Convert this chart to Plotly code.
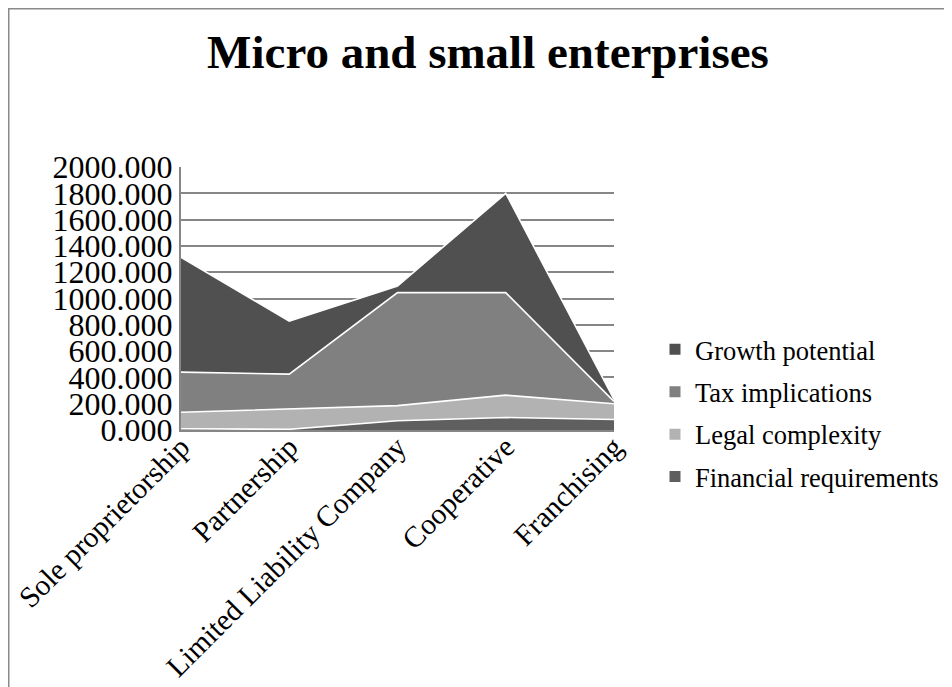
import plotly.graph_objects as go

categories = ["Sole proprietorship", "Partnership", "Limited Liability Company", "Cooperative", "Franchising"]
financial_requirements = [10, 5, 70, 95, 80]
legal_complexity = [125, 155, 115, 170, 120]
tax_implications = [305, 265, 860, 780, 18]
growth_potential = [873, 403, 50, 755, 14]

series = [
    ("Financial requirements", financial_requirements, "#5f5f5f", 4),
    ("Legal complexity", legal_complexity, "#b2b2b2", 3),
    ("Tax implications", tax_implications, "#808080", 2),
    ("Growth potential", growth_potential, "#505050", 1),
]

FONT = "Liberation Serif, Times New Roman, serif"
W, H = 952, 687
# the page body adds an 8px offset; the plot area is placed accordingly
L, R, T, B = 173, 346, 159, 265
pw, ph = W - L - R, H - T - B

fig = go.Figure()
for name, vals, col, rank in series:
    fig.add_trace(go.Scatter(
        x=categories, y=vals, name=name, stackgroup="one", mode="lines",
        line=dict(color="white", width=1.6), fillcolor=col, showlegend=False,
        hoverinfo="x+y+name",
    ))
for name, vals, col, rank in series:
    fig.add_trace(go.Scatter(
        x=[None], y=[None], name=name, mode="markers",
        marker=dict(symbol="square", size=11, color=col),
        legendgroup=name, legendrank=rank, showlegend=True,
    ))

def px_x(px):
    return (px - L) / pw

def px_y(py):
    return (H - B - py) / ph

fig.update_layout(
    width=W, height=H,
    margin=dict(l=L, r=R, t=T, b=B, autoexpand=False),
    paper_bgcolor="white", plot_bgcolor="white",
    font=dict(family=FONT, color="black", size=26),
    title=dict(text="<b>Micro and small enterprises</b>", x=480 / W, xanchor="center",
               y=1 - 44 / H, yanchor="middle", font=dict(size=47, family=FONT)),
    showlegend=True,
    legend=dict(x=px_x(647), xanchor="left", y=px_y(405), yanchor="middle",
                traceorder="grouped", tracegroupgap=5,
                font=dict(size=26.5, family=FONT), itemwidth=30,
                bgcolor="rgba(0,0,0,0)"),
    xaxis=dict(type="category", range=[0, 4], tickangle=-45, showgrid=False,
               showline=True, linecolor="#868686", linewidth=2, ticks="",
               tickfont=dict(size=29.5, family=FONT), fixedrange=True, automargin=False,
               ticklabelstandoff=-14),
    yaxis=dict(range=[0, 2000], dtick=200, tickformat=".3f", showgrid=True,
               gridcolor="#868686", gridwidth=1.5, showline=True,
               linecolor="#868686", linewidth=2, ticks="", zeroline=False,
               tickfont=dict(size=32, family=FONT), fixedrange=True, automargin=False),
    shapes=[
        dict(type="rect", xref="paper", yref="paper",
             x0=px_x(0.5), x1=px_x(W + 20), y0=px_y(H + 20), y1=px_y(0.5),
             line=dict(color="#8a8a8a", width=2), fillcolor="rgba(0,0,0,0)", layer="below"),
    ],
)

fig.write_html("out.html")
